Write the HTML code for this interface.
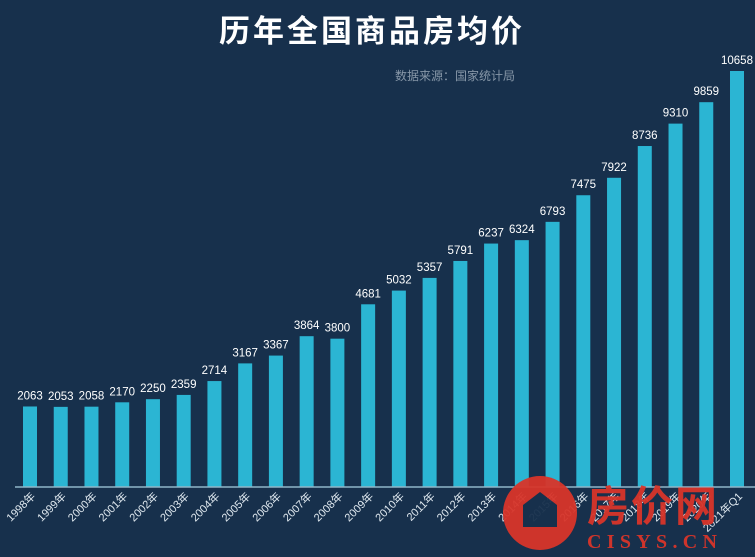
<!DOCTYPE html>
<html><head><meta charset="utf-8"><style>
html,body{margin:0;padding:0;background:#17304c;}
svg{display:block}
</style></head><body>
<svg width="755" height="557" viewBox="0 0 755 557">
<rect x="0" y="0" width="755" height="557" fill="#17304c"/>
<text x="372" y="42" text-anchor="middle" fill="#ffffff" font-size="31" font-weight="bold" letter-spacing="3" font-family="'Liberation Sans','Noto Sans CJK SC',sans-serif">历年全国商品房均价</text>
<text x="455" y="80" text-anchor="middle" fill="#8797a8" font-size="12" font-family="'Liberation Sans','Noto Sans CJK SC',sans-serif">数据来源：国家统计局</text>
<g id="bars"></g>
<line x1="15" y1="487" x2="755" y2="487" stroke="#8fb6c8" stroke-width="1.5"/>
<g id="wm" opacity="0.95">
<circle cx="540" cy="513" r="37" fill="#d8352a"/>
<path d="M523 527 L523 505 L540 492 L557 505 L557 527 Z" fill="#17304c"/>
<text x="587" y="521" fill="#d8352a" font-size="42" font-weight="bold" textLength="130" font-family="'Liberation Sans','Noto Sans CJK SC',sans-serif">房价网</text>
<text x="587" y="548" fill="#d8352a" font-size="20" font-weight="bold" textLength="130" font-family="'Liberation Serif',serif">CISYS.CN</text>
</g>
</svg>
<script>
const categories=["1998年","1999年","2000年","2001年","2002年","2003年","2004年","2005年","2006年","2007年","2008年","2009年","2010年","2011年","2012年","2013年","2014年","2015年","2016年","2017年","2018年","2019年","2020年","2021年Q1"];
const values=[2063,2053,2058,2170,2250,2359,2714,3167,3367,3864,3800,4681,5032,5357,5791,6237,6324,6793,7475,7922,8736,9310,9859,10658];
const NS="http://www.w3.org/2000/svg";
const baseY=487, scale=416/10658, x0=30, step=(737-30)/23, bw=14;
function xPos(i){return x0+i*step;}
function yPos(v){return baseY-v*scale;}
const g=document.getElementById('bars');
categories.forEach((c,i)=>{
 const v=values[i], cx=xPos(i), top=yPos(v);
 const r=document.createElementNS(NS,'rect');
 r.setAttribute('x',cx-bw/2);r.setAttribute('y',top);r.setAttribute('width',bw);r.setAttribute('height',baseY-top);r.setAttribute('fill','#2bb5d3');
 
 
 g.appendChild(r);
 const t=document.createElementNS(NS,'text');
 t.setAttribute('x',cx);t.setAttribute('y',top-7);t.setAttribute('text-anchor','middle');t.setAttribute('fill','#ffffff');t.setAttribute('font-size','11.5');t.setAttribute('font-family',"'Liberation Sans',sans-serif");
 t.textContent=v;
 
 
 g.appendChild(t);
 const l=document.createElementNS(NS,'text');
 l.setAttribute('transform','translate('+(cx+6)+','+(baseY+10)+') rotate(-45)');
 l.setAttribute('text-anchor','end');l.setAttribute('fill','#dfe8ef');l.setAttribute('font-size','11');l.setAttribute('font-family',"'Liberation Sans','Noto Sans CJK SC',sans-serif");
 l.textContent=c;
 
 
 g.appendChild(l);
});
</script>
</body></html>
